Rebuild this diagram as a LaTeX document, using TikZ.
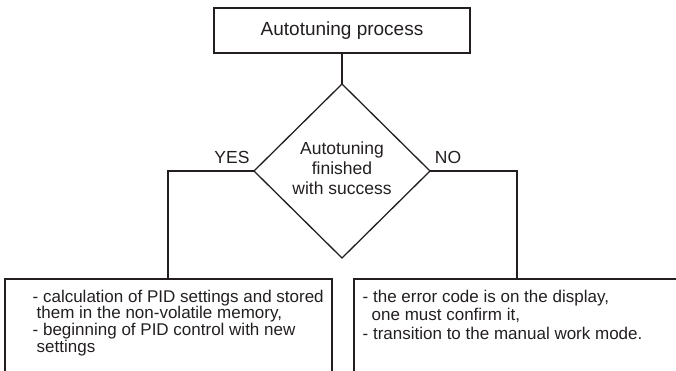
\documentclass[tikz,border=0pt]{standalone}
\usepackage{fontspec}
\setmainfont{Liberation Sans}
\usetikzlibrary{shapes.geometric}
\definecolor{ink}{HTML}{231F20}
\tikzset{
  boxline/.style={draw=ink, line width=1.6pt},
  conn/.style={draw=ink, line width=1.1pt},
  txt/.style={text=ink, inner sep=0pt, font=\fontsize{17.5}{20}\selectfont},
  body/.style={text=ink, inner sep=0pt, align=left, anchor=north west},
}
\begin{document}
\begin{tikzpicture}[x=1pt,y=-1pt]
\useasboundingbox (0,0) rectangle (676,370);
\clip (0,0) rectangle (676,370);
% top box
\node[boxline, minimum width=256pt, minimum height=45pt, inner sep=0pt, fill=white] (top) at (342,30.5) {};
\node[txt, font=\fontsize{19}{22}\selectfont] (toptxt) at (342,30.5) {Autotuning process};
% diamond
\coordinate (dT) at (342,84);
\coordinate (dL) at (254,171);
\coordinate (dR) at (430,171);
\coordinate (dB) at (342,258);
\draw[conn, line width=1.3pt, line join=miter] (dT) -- (dR) -- (dB) -- (dL) -- cycle;
\node[txt, align=center] (dtxt) at (342,168) {Autotuning\\finished\\with success};
% connectors
\draw[conn] (top.south) -- (dT);
\coordinate (yl) at (168,171);
\coordinate (nr) at (517,171);
% bottom boxes (extend beyond picture edge)
\coordinate (lbTL) at (5,279);
\coordinate (lbBR) at (332,400);
\coordinate (rbTL) at (354,279);
\coordinate (rbBR) at (700,400);
\draw[boxline] (lbTL) rectangle (lbBR);
\draw[boxline] (rbTL) rectangle (rbBR);
\coordinate (lbT) at (168,279);
\coordinate (rbT) at (517,279);
\draw[conn] (dL) -- (yl) -- (lbT);
\draw[conn] (dR) -- (nr) -- (rbT);
\node[txt] (yes) at (232,157) {YES};
\node[txt] (no) at (448,157) {NO};
% texts
\node[txt, body, font=\fontsize{17}{16.8}\selectfont] (ltxt) at (32.5,289.5)
 {- calculation of PID settings and stored\\
  \hspace*{4pt}them in the non-volatile memory,\\
  - beginning of PID control with new\\
  \hspace*{4pt}settings};
\node[txt, body, font=\fontsize{17}{18.3}\selectfont] (rtxt) at (362.5,290)
 {- the error code is on the display,\\
  \hspace*{9pt}one must confirm it,\\
  - transition to the manual work mode.};
\end{tikzpicture}
\end{document}
